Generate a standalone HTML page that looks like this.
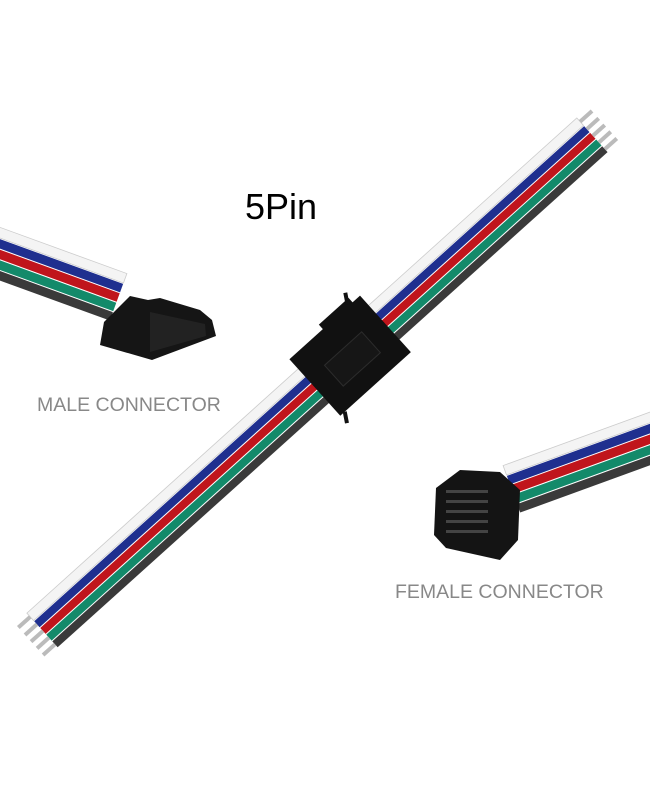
<!DOCTYPE html>
<html><head><style>
html,body{margin:0;padding:0;background:#fff;width:650px;height:800px;overflow:hidden}
svg{display:block}
</style></head><body>
<svg width="650" height="800" viewBox="0 0 650 800" xmlns="http://www.w3.org/2000/svg">

<!-- main cable -->
<g transform="translate(352,354) rotate(-42)">
  <rect x="-415" y="-25" width="740" height="10" fill="#f4f4f4" stroke="#ccc" stroke-width="0.8"/>
  <rect x="-415" y="-14" width="740" height="8" fill="#1f2f8f"/>
  <rect x="-415" y="-5" width="740" height="8" fill="#c0151c"/>
  <rect x="-415" y="4" width="740" height="8" fill="#138a6a"/>
  <rect x="-415" y="13" width="740" height="8" fill="#3a3a3a"/>
  <g fill="#bbb">
    <rect x="-431" y="-22" width="16" height="4"/><rect x="-431" y="-12" width="16" height="4"/>
    <rect x="-431" y="-3" width="16" height="4"/><rect x="-431" y="6" width="16" height="4"/>
    <rect x="-431" y="15" width="16" height="4"/>
    <rect x="325" y="-22" width="16" height="4"/><rect x="325" y="-12" width="16" height="4"/>
    <rect x="325" y="-3" width="16" height="4"/><rect x="325" y="6" width="16" height="4"/>
    <rect x="325" y="15" width="16" height="4"/>
  </g>
  <rect x="-50" y="-38" width="95" height="76" fill="#111"/>
  <rect x="-5" y="-44" width="40" height="10" fill="#111"/>
  <rect x="-28" y="-10" width="50" height="28" fill="#161616" stroke="#2c2c2c"/>
  <path d="M30,-40 l6,-10 M-44,38 l-6,10" stroke="#111" stroke-width="4"/>
</g>

<!-- male connector cable -->
<g transform="translate(118,298) rotate(20)">
  <rect x="-150" y="-26" width="150" height="10" fill="#f4f4f4" stroke="#ccc" stroke-width="0.8"/>
  <rect x="-150" y="-15" width="150" height="9" fill="#1f2f8f"/>
  <rect x="-150" y="-5" width="150" height="9" fill="#c0151c"/>
  <rect x="-150" y="5" width="150" height="9" fill="#138a6a"/>
  <rect x="-150" y="15" width="150" height="9" fill="#3a3a3a"/>
</g>
<path d="M104,322 L130,296 L148,300 L160,298 L200,310 L212,320 L216,336 L152,360 L100,345 Z" fill="#151515"/>
<path d="M150,312 L205,324 L206,336 L150,352 Z" fill="#222"/>

<!-- female connector cable -->
<g transform="translate(512,490) rotate(-20)">
  <rect x="0" y="-26" width="170" height="10" fill="#f4f4f4" stroke="#ccc" stroke-width="0.8"/>
  <rect x="0" y="-15" width="170" height="9" fill="#1f2f8f"/>
  <rect x="0" y="-5" width="170" height="9" fill="#c0151c"/>
  <rect x="0" y="5" width="170" height="9" fill="#138a6a"/>
  <rect x="0" y="15" width="170" height="9" fill="#3a3a3a"/>
</g>
<path d="M436,488 L460,470 L500,472 L520,490 L518,540 L500,560 L446,548 L434,535 Z" fill="#141414"/>
<g fill="#444">
  <rect x="446" y="490" width="42" height="3"/><rect x="446" y="500" width="42" height="3"/>
  <rect x="446" y="510" width="42" height="3"/><rect x="446" y="520" width="42" height="3"/>
  <rect x="446" y="530" width="42" height="3"/>
</g>

<text x="245" y="219" font-family="Liberation Sans, sans-serif" font-size="36" fill="#000">5Pin</text>
<text x="37" y="411" font-family="Liberation Sans, sans-serif" font-size="19.5" fill="#888">MALE CONNECTOR</text>
<text x="395" y="598" font-family="Liberation Sans, sans-serif" font-size="19.5" fill="#888">FEMALE CONNECTOR</text>
</svg>
</body></html>
